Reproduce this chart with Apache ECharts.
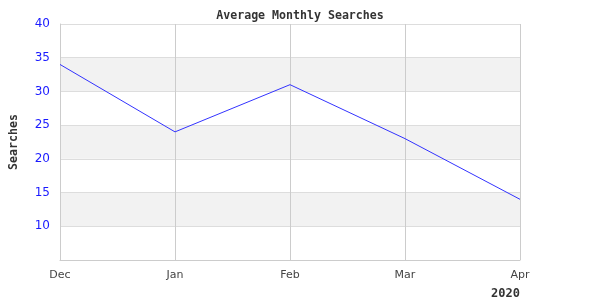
<!DOCTYPE html>
<html><head><meta charset="utf-8">
<script src="https://cdn.jsdelivr.net/npm/echarts@6/dist/echarts.min.js"></script>
<style>html,body{margin:0;padding:0;background:#fff}#c{width:600px;height:300px}</style>
</head><body><div id="c"></div>
<script>
const categories = ['Dec', 'Jan', 'Feb', 'Mar', 'Apr'];
const searches = [34, 24, 31, 23, 14];
const yMin = 5, yMax = 40, yStep = 5;
const chart = echarts.init(document.getElementById('c'), null, {renderer: 'canvas'});
chart.setOption({
  animation: false,
  title: {
    text: 'Average Monthly Searches', left: 'center', top: 5,
    textStyle: {fontFamily: 'DejaVu Sans Mono', fontSize: 11.6, fontWeight: 'bold', color: '#333'}
  },
  graphic: [{
    type: 'text', right: 80, top: 288,
    style: {text: '2020', font: 'bold 12px "DejaVu Sans Mono"', fill: '#333'}
  }],
  grid: {left: 60, right: 80, top: 24, bottom: 40, containLabel: false},
  xAxis: {
    type: 'category', data: categories, boundaryGap: false,
    axisLine: {show: true, lineStyle: {color: '#ccc'}},
    axisTick: {show: false},
    axisLabel: {color: '#444', fontFamily: 'DejaVu Sans', fontSize: 11, margin: 10},
    splitLine: {show: true, lineStyle: {color: '#ccc'}}
  },
  yAxis: {
    type: 'value', min: yMin, max: yMax, interval: yStep,
    name: 'Searches', nameLocation: 'middle', nameGap: 40, nameRotate: 90,
    nameTextStyle: {fontFamily: 'DejaVu Sans Mono', fontSize: 11.6, fontWeight: 'bold', color: '#333'},
    axisLine: {show: true, lineStyle: {color: '#ccc'}},
    axisTick: {show: false},
    axisLabel: {color: '#1a1aff', fontFamily: 'DejaVu Sans', fontSize: 12, margin: 10, showMinLabel: false},
    splitLine: {show: true, lineStyle: {color: '#ddd'}},
    splitArea: {show: true, areaStyle: {color: ['#ffffff', '#f2f2f2']}}
  },
  series: [{
    type: 'line', data: searches, symbol: 'none',
    lineStyle: {color: '#3333ff', width: 1}
  }]
});
</script></body></html>
